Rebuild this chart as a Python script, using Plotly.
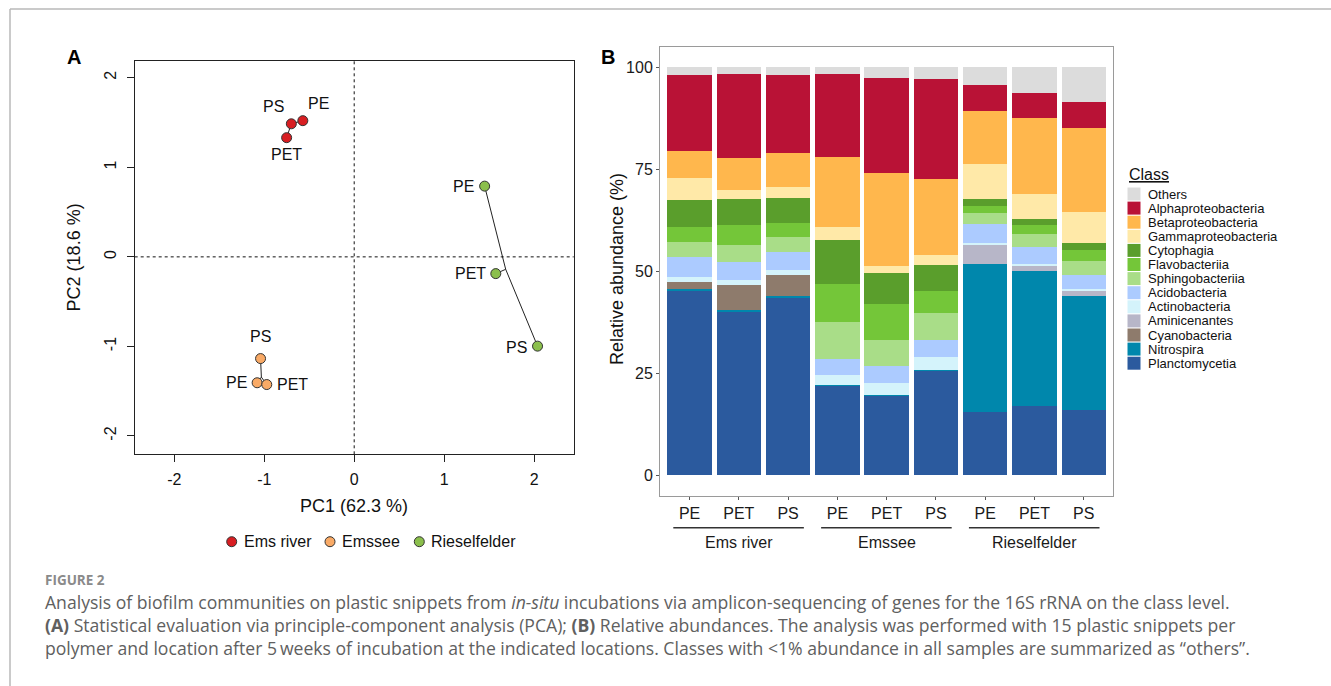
import plotly.graph_objects as go

W, H = 1331, 686
def px(x): return x / W
def py(y): return 1 - y / H

# ---------------- Panel A data (PCA) ----------------
sites = ["Ems river", "Emssee", "Rieselfelder"]
site_colors = ["#D81E22", "#F9AA66", "#8BBF4C"]
polymers = ["PE", "PET", "PS"]
pc1 = {"Ems river": [-0.571, -0.751, -0.699],
       "Emssee": [-1.079, -0.972, -1.041],
       "Rieselfelder": [1.450, 1.574, 2.038]}
pc2 = {"Ems river": [1.521, 1.331, 1.486],
       "Emssee": [-1.406, -1.426, -1.136],
       "Rieselfelder": [0.790, -0.187, -0.997]}
branch_x = {"Ems river": -0.699, "Emssee": -1.032, "Rieselfelder": 1.684}
branch_y = {"Ems river": 1.486, "Emssee": -1.343, "Rieselfelder": -0.139}
pc_ticks = [-2, -1, 0, 1, 2]
pc_tick_labels = ["-2", "-1", "0", "1", "2"]
# label placement style per point: (xanchor, xshift, yshift)
label_style = {"Ems river": [("center", 16, 17), ("center", 0, -17), ("center", -18, 17)],
               "Emssee": [("right", -8, 0), ("left", 8, 0), ("center", 0, 22)],
               "Rieselfelder": [("right", -9, 0), ("right", -8, 0), ("right", -9, -1)]}

# ---------------- Panel B data (relative abundance) ----------------
samples = ["PE", "PET", "PS"] * 3
groups = ["Ems river", "Emssee", "Rieselfelder"]
classes = ["Planctomycetia", "Nitrospira", "Cyanobacteria", "Aminicenantes", "Actinobacteria",
           "Acidobacteria", "Sphingobacteriia", "Flavobacteriia", "Cytophagia",
           "Gammaproteobacteria", "Betaproteobacteria", "Alphaproteobacteria", "Others"]
class_colors = ["#2B5A9E", "#0087AC", "#8E7B6C", "#B7B6C8", "#D4F3FB", "#ACCBFF", "#A9DD88",
                "#74C639", "#5A9E2C", "#FFE9A8", "#FFB74D", "#B91236", "#DCDCDC"]
Planctomycetia = [45.3, 40.1, 43.4, 22.0, 19.6, 25.8, 15.5, 17.1, 16.1]
Nitrospira = [0.4, 0.4, 0.5, 0.2, 0.2, 0.1, 36.3, 32.9, 27.8]
Cyanobacteria = [1.6, 6.2, 5.3, 0.0, 0.0, 0.0, 0.0, 0.0, 0.0]
Aminicenantes = [0.0, 0.0, 0.0, 0.0, 0.0, 0.0, 4.7, 1.5, 1.3]
Actinobacteria = [1.4, 1.2, 1.1, 2.5, 2.8, 3.1, 0.5, 0.2, 0.4]
Acidobacteria = [4.8, 4.3, 4.5, 3.9, 4.1, 4.1, 4.7, 4.3, 3.6]
Sphingobacteriia = [3.6, 4.2, 3.7, 8.9, 6.4, 6.6, 2.5, 3.1, 3.4]
Flavobacteriia = [3.8, 4.9, 3.4, 9.5, 9.0, 5.5, 1.8, 2.2, 2.7]
Cytophagia = [6.7, 6.5, 6.2, 10.8, 7.4, 6.3, 1.7, 1.6, 1.7]
Gammaproteobacteria = [5.3, 2.2, 2.6, 3.1, 1.9, 2.4, 8.6, 6.0, 7.5]
Betaproteobacteria = [6.7, 7.7, 8.3, 17.1, 22.8, 18.7, 12.9, 18.6, 20.6]
Alphaproteobacteria = [18.5, 20.7, 19.1, 20.5, 23.3, 24.6, 6.6, 6.3, 6.3]
Others = [1.9, 1.6, 1.9, 1.5, 2.5, 2.8, 4.2, 6.2, 8.6]
class_values = [Planctomycetia, Nitrospira, Cyanobacteria, Aminicenantes, Actinobacteria,
                Acidobacteria, Sphingobacteriia, Flavobacteriia, Cytophagia,
                Gammaproteobacteria, Betaproteobacteria, Alphaproteobacteria, Others]
abund_ticks = [0, 25, 50, 75, 100]

FONT = "Arial, Liberation Sans, sans-serif"
fig = go.Figure()

def note(x, y, text, size, color="#111", xanchor="center", yanchor="middle", angle=0,
         family=FONT, xref="paper"):
    fig.add_annotation(x=x, y=y, xref=xref, yref="paper", text=text, showarrow=False,
                       xanchor=xanchor, yanchor=yanchor, textangle=angle,
                       font=dict(family=family, size=size, color=color))

# ---- Panel A traces ----
for si, s in enumerate(sites):
    lx, ly = [], []
    for k in range(3):
        lx += [branch_x[s], pc1[s][k], None]
        ly += [branch_y[s], pc2[s][k], None]
    fig.add_trace(go.Scatter(x=lx, y=ly, mode="lines", line=dict(color="#222", width=1),
                             showlegend=False, hoverinfo="skip", xaxis="x", yaxis="y"))
for si, s in enumerate(sites):
    fig.add_trace(go.Scatter(x=pc1[s], y=pc2[s], mode="markers", name=s,
                             marker=dict(size=10, color=site_colors[si],
                                         line=dict(color="#333", width=1)),
                             showlegend=False, xaxis="x", yaxis="y"))
    for k in range(3):
        xa, xs, ys = label_style[s][k]
        fig.add_annotation(x=pc1[s][k], y=pc2[s][k], xref="x", yref="y", text=polymers[k],
                           showarrow=False, xanchor=xa, yanchor="middle", xshift=xs, yshift=ys,
                           font=dict(family=FONT, size=16, color="#111"))

# ---- Panel B traces ----
xpos = list(range(1, len(samples) + 1))
for ci, c in enumerate(classes):
    fig.add_trace(go.Bar(x=xpos, y=class_values[ci], name=c, width=0.9,
                         marker=dict(color=class_colors[ci], line=dict(width=0)),
                         showlegend=False, xaxis="x2", yaxis="y2"))

# ---- Layout / axes ----
axA = dict(showgrid=False, zeroline=False, showline=True, mirror=True, linecolor="#222",
           linewidth=1, ticks="outside", ticklen=7, tickcolor="#222",
           tickfont=dict(family=FONT, size=16, color="#111"))
axB = dict(showgrid=False, zeroline=False, showline=True, mirror=True,
           linecolor="#9a9a9a", linewidth=1, ticks="outside", ticklen=3, tickcolor="#555",
           tickfont=dict(family=FONT, size=16, color="#1a1a1a"))
fig.update_layout(
    width=W, height=H, margin=dict(l=0, r=0, t=0, b=0),
    paper_bgcolor="white", plot_bgcolor="white", barmode="stack", bargap=0,
    xaxis=dict(domain=[px(134.7), px(573.7)], range=[-2.44, 2.44], tickvals=pc_ticks,
               ticktext=pc_tick_labels, anchor="y", ticklabelstandoff=3, **axA),
    yaxis=dict(domain=[py(454.3), py(60.5)], range=[-2.205, 2.193], tickvals=pc_ticks,
               ticktext=pc_tick_labels, anchor="x", tickangle=-90, ticklabelstandoff=4, **axA),
    xaxis2=dict(domain=[px(660), px(1113.3)], range=[0.4, 9.6], tickvals=xpos, ticktext=samples,
                anchor="y2", **axB),
    yaxis2=dict(domain=[py(496), py(47.3)], range=[-5, 105], tickvals=abund_ticks,
                anchor="x2", **axB),
)

# dotted zero lines in PCA
fig.add_shape(type="line", xref="x", yref="y domain", x0=0, x1=0, y0=0, y1=1,
              line=dict(color="#111", width=1, dash="dot"))
fig.add_shape(type="line", xref="x domain", yref="y", x0=0, x1=1, y0=0, y1=0,
              line=dict(color="#111", width=1, dash="dot"))

# axis titles
note(px(354.3), py(506), "PC1 (62.3 %)", 18)
note(px(74.4), py(257), "PC2 (18.6 %)", 18, angle=-90)
note(px(617), py(269), "Relative abundance (%)", 18, angle=-90)
# panel letters
note(px(74.4), py(57), "<b>A</b>", 20, color="#000")
note(px(608), py(57), "<b>B</b>", 20, color="#000")

# PCA legend (below panel A)
leg_marker_x = [231.7, 330.0, 419.3]
for si, s in enumerate(sites):
    cx, cy = leg_marker_x[si], 541.7
    fig.add_shape(type="circle", xref="paper", yref="paper",
                  x0=px(cx - 5), x1=px(cx + 5), y0=py(cy + 5), y1=py(cy - 5),
                  fillcolor=site_colors[si], line=dict(color="#333", width=1))
    note(px(cx + 10), py(cy), s, 16, xanchor="left")

# group lines and labels under panel B
for gi, g in enumerate(groups):
    first = gi * 3 + 1
    fig.add_shape(type="line", xref="x2", yref="paper", x0=first - 0.33, x1=first + 2 + 0.32,
                  y0=py(527.7), y1=py(527.7), line=dict(color="#333", width=1.5))
    note(first + 1, py(542), g, 16, color="#1a1a1a", xref="x2")

# manual legend for panel B
note(px(1127), py(175), "<u>Class</u>", 16, xanchor="left")
legend_order = list(range(len(classes)))[::-1]
for i, ci in enumerate(legend_order):
    cy = 194 + 14.1 * i
    fig.add_shape(type="rect", xref="paper", yref="paper",
                  x0=px(1127.5), x1=px(1140.5), y0=py(cy + 6.5), y1=py(cy - 6.5),
                  fillcolor=class_colors[ci], line=dict(width=0))
    note(px(1146), py(cy), classes[ci], 13, xanchor="left")

# outer frame lines
fig.add_shape(type="line", xref="paper", yref="paper", x0=px(10), x1=1, y0=py(9), y1=py(9),
              line=dict(color="#b8b8b8", width=1.5))
fig.add_shape(type="line", xref="paper", yref="paper", x0=px(10), x1=px(10), y0=py(9), y1=0,
              line=dict(color="#b8b8b8", width=1.5))

# caption
CAP = "Open Sans, Lato, sans-serif"
note(px(43), py(580), "<b>FIGURE 2</b>", 13.5, color="#8a8a8a", xanchor="left", family=CAP)
caption_lines = [
    "Analysis of biofilm communities on plastic snippets from <i>in-situ</i> incubations via amplicon-sequencing of genes for the 16S rRNA on the class level.",
    "<b>(A)</b> Statistical evaluation via principle-component analysis (PCA); <b>(B)</b> Relative abundances. The analysis was performed with 15 plastic snippets per",
    "polymer and location after 5\u2009weeks of incubation at the indicated locations. Classes with &lt;1% abundance in all samples are summarized as \u201cothers\u201d.",
]
for li, line in enumerate(caption_lines):
    note(px(43), py(602 + 22.8 * li), line, 17.6, color="#606060", xanchor="left", family=CAP)

fig.write_html("out.html")
